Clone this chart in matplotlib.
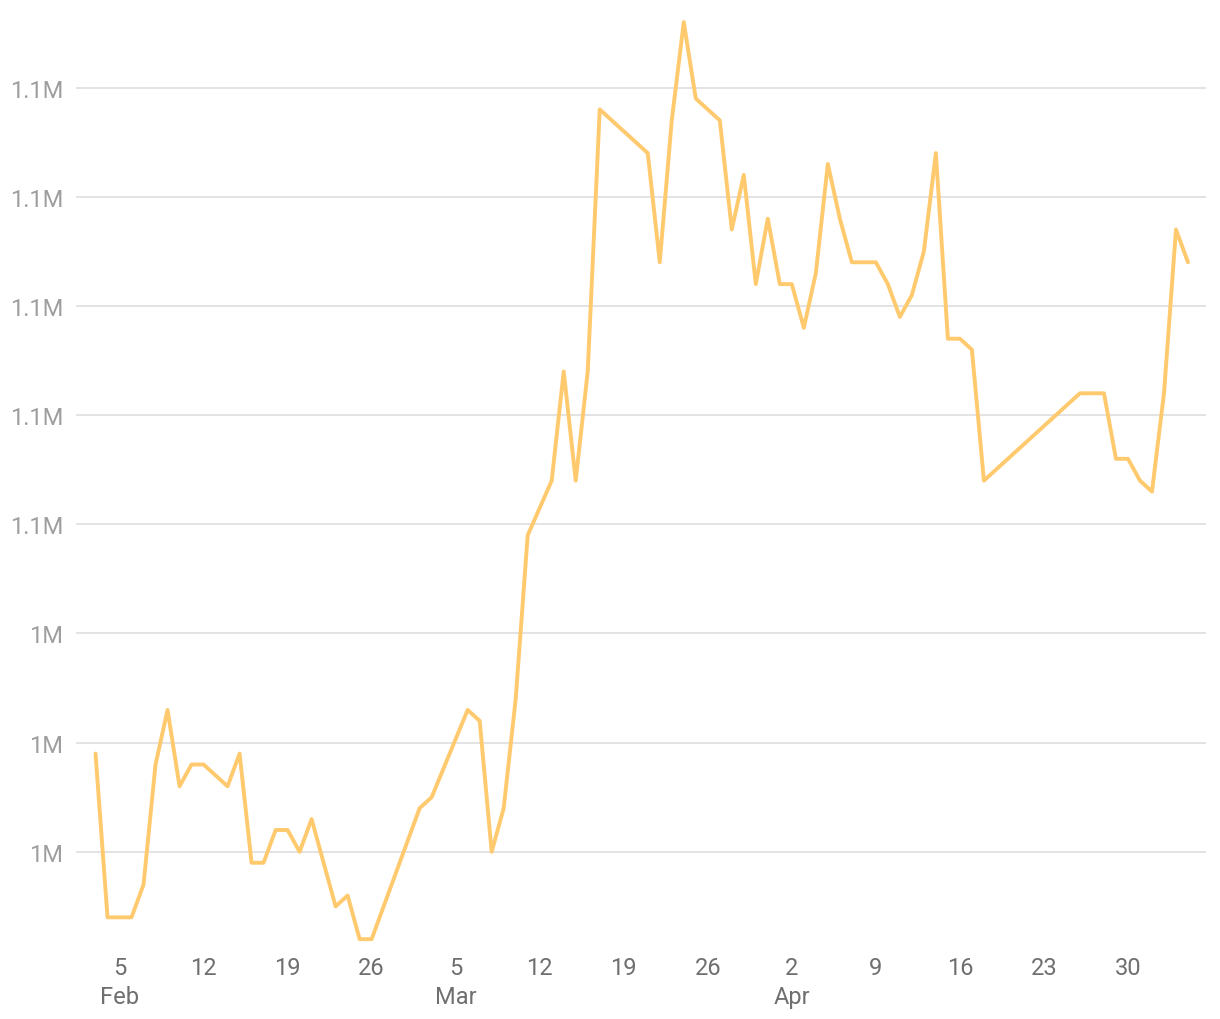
import pandas as pd
import matplotlib.pyplot as plt
from matplotlib.ticker import FuncFormatter, MultipleLocator

plt.rcParams['font.family'] = ['Roboto', 'DejaVu Sans']

dates = ["2022-02-03", "2022-02-04", "2022-02-05", "2022-02-06", "2022-02-07", "2022-02-08",
         "2022-02-09", "2022-02-10", "2022-02-11", "2022-02-12", "2022-02-14", "2022-02-15",
         "2022-02-16", "2022-02-17", "2022-02-18", "2022-02-19", "2022-02-20", "2022-02-21",
         "2022-02-23", "2022-02-24", "2022-02-25", "2022-02-26", "2022-03-02", "2022-03-03",
         "2022-03-06", "2022-03-07", "2022-03-08", "2022-03-09", "2022-03-10", "2022-03-11",
         "2022-03-13", "2022-03-14", "2022-03-15", "2022-03-16", "2022-03-17", "2022-03-21",
         "2022-03-22", "2022-03-23", "2022-03-24", "2022-03-25", "2022-03-27", "2022-03-28",
         "2022-03-29", "2022-03-30", "2022-03-31", "2022-04-01", "2022-04-02", "2022-04-03",
         "2022-04-04", "2022-04-05", "2022-04-06", "2022-04-07", "2022-04-09", "2022-04-10",
         "2022-04-11", "2022-04-12", "2022-04-13", "2022-04-14", "2022-04-15", "2022-04-16",
         "2022-04-17", "2022-04-18", "2022-04-26", "2022-04-28", "2022-04-29", "2022-04-30",
         "2022-05-01", "2022-05-02", "2022-05-03", "2022-05-04", "2022-05-05"]

values = [1018000, 988000, 988000, 988000, 994000, 1016000,
          1026000, 1012000, 1016000, 1016000, 1012000, 1018000,
          998000, 998000, 1004000, 1004000, 1000000, 1006000,
          990000, 992000, 984000, 984000, 1008000, 1010000,
          1026000, 1024000, 1000000, 1008000, 1028000, 1058000,
          1068000, 1088000, 1068000, 1088000, 1136000, 1128000,
          1108000, 1134000, 1152000, 1138000, 1134000, 1114000,
          1124000, 1104000, 1116000, 1104000, 1104000, 1096000,
          1106000, 1126000, 1116000, 1108000, 1108000, 1104000,
          1098000, 1102000, 1110000, 1128000, 1094000, 1094000,
          1092000, 1068000, 1084000, 1084000, 1072000, 1072000,
          1068000, 1066000, 1084000, 1114000, 1108000]

tick_dates = ["2022-02-05", "2022-02-12", "2022-02-19", "2022-02-26", "2022-03-05",
              "2022-03-12", "2022-03-19", "2022-03-26", "2022-04-02", "2022-04-09",
              "2022-04-16", "2022-04-23", "2022-04-30"]
tick_labels = ["5\nFeb", "12", "19", "26", "5\nMar", "12", "19", "26", "2\nApr",
               "9", "16", "23", "30"]

df = pd.DataFrame({"date": pd.to_datetime(dates), "value": values})

fig = plt.figure(figsize=(12.2, 10.2), dpi=100)
ax = fig.add_axes([76 / 1220, 70 / 1020, 1130 / 1220, 940 / 1020])

ax.plot(df["date"], df["value"], color="#ffc96e", lw=2.8, solid_joinstyle="round",
        solid_capstyle="round")

ax.set_xlim(pd.Timestamp("2022-02-01 09:00"), pd.Timestamp("2022-05-06 12:00"))
ax.set_ylim(982200, 1154400)

ax.yaxis.set_major_locator(MultipleLocator(20000))
ax.yaxis.set_major_formatter(FuncFormatter(
    lambda v, p: f"{v / 1e6:.1f}".rstrip("0").rstrip(".") + "M"))
ax.set_xticks(pd.to_datetime(tick_dates))
ax.set_xticklabels(tick_labels, linespacing=1.35)

ax.grid(axis="y", color="#e3e3e3", lw=1.4)
ax.set_axisbelow(True)
for s in ax.spines.values():
    s.set_visible(False)

ax.tick_params(axis="y", length=0, pad=9, labelsize=17, labelcolor="#9e9e9e")
ax.tick_params(axis="x", length=0, pad=5, labelsize=17, labelcolor="#6f6f6f")
for t in ax.get_xticklabels():
    t.set_verticalalignment("top")

fig.savefig("out.png", dpi=100)
